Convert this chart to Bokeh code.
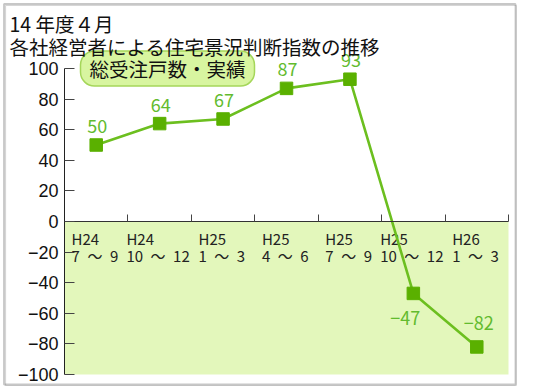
from bokeh.plotting import figure
from bokeh.models import Range1d, FixedTicker, BoxAnnotation, Label, LabelSet, ColumnDataSource
from bokeh.embed import file_html
from bokeh.resources import INLINE
from bokeh.core.properties import value

# ---- data ----
title_line1 = "14 年度４月"
title_line2 = "各社経営者による住宅景況判断指数の推移"
legend_text = "総受注戸数・実績"
period_year = ["H24", "H24", "H25", "H25", "H25", "H25", "H26"]
period_months = ["7～9", "10～12", "1～3", "4～6", "7～9", "10～12", "1～3"]
index_values = [50, 64, 67, 87, 93, -47, -82]
y_ticks = [-100, -80, -60, -40, -20, 0, 20, 40, 60, 80, 100]

# label placement (pixels, positive = up)
label_dx = [1, 1, 1, 1, 1, -8, 2]
label_dy = [12, 12, 12, 12, 12, -32, 17]

JP = "Noto Sans CJK JP"
LINE_GREEN = "#6cbf1f"
MARK_GREEN = "#5ab000"
TEXT_GREEN = "#62bb2e"
BAND_GREEN = "#e3f7bb"

n = len(index_values)
xs = [i + 0.5 for i in range(n)]
Y_MIN, Y_MAX = -100, 100

# ---- layout: the frame fills the canvas; plot box at px 64..508 x 68..374 ----
W, H = 519, 388
BOX_L, BOX_R, BOX_T, BOX_B = 64, 508, 68, 374
SX = (BOX_R - BOX_L) / n
SY = (BOX_B - BOX_T) / (Y_MAX - Y_MIN)


def fx(px):
    return (px - BOX_L) / SX


def fy(py):
    return Y_MAX - (py - BOX_T) / SY


p = figure(width=W, height=H, output_backend="svg", toolbar_location=None,
           x_range=Range1d(fx(0), fx(W)), y_range=Range1d(fy(H), fy(0)),
           min_border=0)
p.outline_line_color = None
p.xgrid.visible = False
p.ygrid.visible = False
p.background_fill_color = "white"
p.border_fill_color = "white"

# outer border (dark frame with a heavier grey bottom/right edge)
p.add_layout(BoxAnnotation(left=fx(3.5), right=fx(515), top=fy(3.5), bottom=fy(384),
                           fill_alpha=0, line_color="#444", line_width=1.8))
p.add_layout(BoxAnnotation(left=fx(5), right=fx(515.8), top=fy(5), bottom=fy(385),
                           fill_alpha=0, line_color="#777", line_width=1.2))

# green band below zero
p.add_layout(BoxAnnotation(left=0, right=n, top=0, bottom=Y_MIN, fill_color=BAND_GREEN,
                           fill_alpha=1, line_color=None, level="underlay"))

# y axis, pinned at x=0
ya = p.yaxis[0]
ya.fixed_location = 0
ya.bounds = (Y_MIN, Y_MAX)
ya.ticker = FixedTicker(ticks=y_ticks)
ya.major_label_overrides = {t: (str(t).replace("-", "−")) for t in y_ticks}
ya.major_tick_in = 10
ya.major_tick_out = 0
ya.minor_tick_line_color = None
ya.axis_line_color = "#222"
ya.major_tick_line_color = "#444"
ya.major_label_standoff = 6
ya.major_label_text_font = "Liberation Sans"
ya.major_label_text_font_size = "18px"
ya.major_label_text_color = "#111"

# x axis, pinned at y=0, ticks at category boundaries
xa = p.xaxis[0]
xa.fixed_location = 0
xa.bounds = (0, n)
xa.ticker = FixedTicker(ticks=[i + 1 for i in range(n)])
xa.major_tick_in = 7
xa.major_tick_out = 0
xa.minor_tick_line_color = None
xa.axis_line_color = "#333"
xa.major_tick_line_color = "#444"
xa.major_label_text_color = None

# category labels (two lines, left-aligned block centered on category)
months_txt = [m.replace("～", "\u2002～\u2002") for m in period_months]
widths = [sum(c.isdigit() for c in m) * 8.6 + 30 for m in period_months]
cat_src = ColumnDataSource(dict(x=xs, y=[0] * n, top=period_year, bot=months_txt,
                                dx=[-w / 2 - 1 for w in widths]))
p.text(x="x", y="y", text="top", source=cat_src, x_offset="dx", y_offset=16.5,
       text_align="left", text_baseline="alphabetic", text_font=value(JP),
       text_font_size="15px", text_color="#222")
p.text(x="x", y="y", text="bot", source=cat_src, x_offset="dx", y_offset=34,
       text_align="left", text_baseline="alphabetic", text_font=value(JP),
       text_font_size="15px", text_color="#222")

# series
src = ColumnDataSource(dict(x=xs, y=index_values,
                            lab=[str(v).replace("-", "−") for v in index_values],
                            dx=label_dx, dy=label_dy))
p.line(x="x", y="y", source=src, line_color=LINE_GREEN, line_width=2.6)
p.scatter(x="x", y="y", source=src, marker="square", size=12.5,
          fill_color=MARK_GREEN, line_color=MARK_GREEN)
p.add_layout(LabelSet(x="x", y="y", text="lab", source=src, x_offset="dx", y_offset="dy",
                      text_align="center", text_baseline="alphabetic", text_font=value(JP),
                      text_font_size="18px", text_color=TEXT_GREEN))

# legend pill
p.add_layout(Label(x=fx(80), y=fy(68), text=legend_text, text_align="left",
                   text_baseline="middle", text_font=JP, text_font_size="19.5px",
                   text_color="#111", background_fill_color="#d8f5a0",
                   border_line_color="#a5d65a", border_line_width=1.5,
                   padding=(9, 3), border_radius=14))

# titles
p.add_layout(Label(x=fx(9), y=fy(23.3), text=title_line1,
                   text_baseline="alphabetic", text_font=JP, text_font_size="19.5px",
                   text_color="#111"))
p.add_layout(Label(x=fx(9), y=fy(45.5), text=title_line2,
                   text_baseline="alphabetic", text_font=JP, text_font_size="19.5px",
                   text_color="#111"))

open("out.html", "w").write(file_html(p, INLINE))
